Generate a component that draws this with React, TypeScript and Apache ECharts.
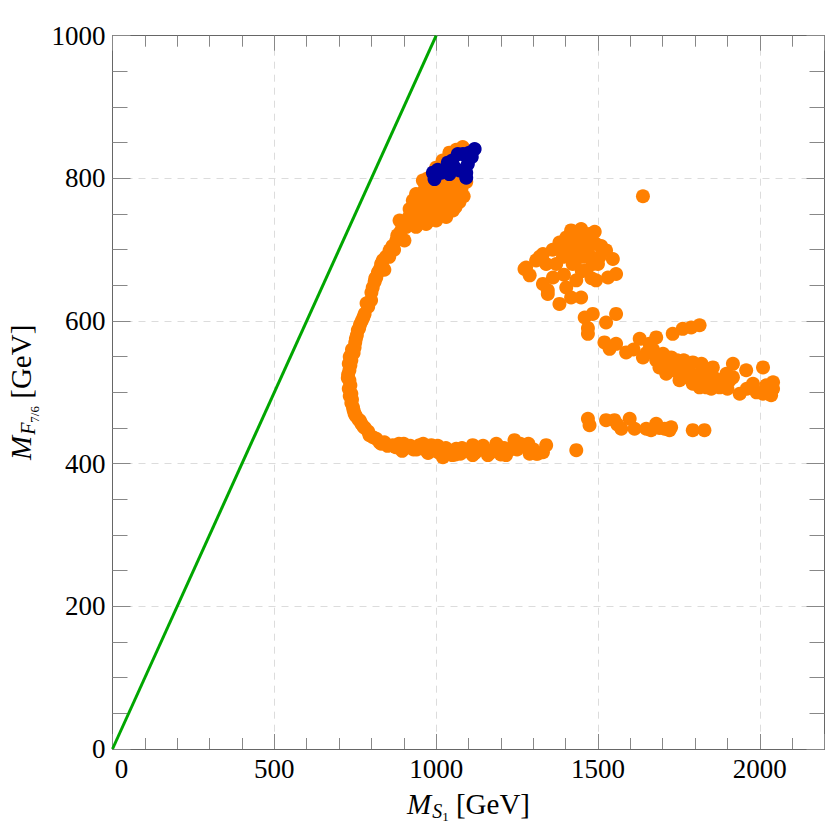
import React, { useEffect, useRef } from "react";
import * as echarts from "echarts";

const FONT = '"Liberation Serif", "Times New Roman", serif';

// Axis ranges / ticks
const xRange = [0, 2200];
const yRange = [0, 1000];
const xMajor = 500;
const xMinor = 100;
const yMajor = 200;

// Diagonal reference line M_F = M_S
const diagonalLine: [number, number][] = [
  [0, 0],
  [1000, 1000],
];

// Left "C"-shaped branch (orange)
const arcPoints: [number, number][] = [
  [1041, 836], [1082, 844], [1062, 840], [1020, 825], [1000, 815], [975, 800],
  [959, 797], [969, 774], [928, 769], [918, 757], [949, 750], [990, 760],
  [1021, 774], [1052, 788], [1078, 785], [1072, 767], [1052, 755], [1031, 746],
  [1000, 741], [969, 736], [938, 732], [908, 732], [902, 713], [1010, 783],
  [990, 792], [1031, 797], [938, 778], [980, 748], [959, 755], [1093, 795],
  [1062, 775], [1000, 770], [950, 765], [930, 745], [1040, 765], [985, 780],
  [920, 740], [945, 740], [960, 745], [975, 740], [990, 750], [1010, 750],
  [1020, 760], [1045, 775], [1060, 790], [1070, 800], [1080, 800], [965, 785],
  [955, 770], [975, 765], [1000, 785], [1020, 790], [940, 760], [915, 745],
  [1060, 760], [1085, 775], [1030, 780], [1010, 800], [985, 800], [995, 805],
  [887, 741], [877, 713], [856, 699], [830, 680], [815, 661], [804, 647],
  [799, 629], [779, 610], [758, 587], [748, 563], [738, 545], [732, 531],
  [732, 517], [738, 498], [743, 479], [748, 470], [769, 456], [794, 440],
  [825, 430], [866, 426], [908, 423], [949, 426], [990, 419], [1021, 409],
  [1062, 421], [1113, 426], [1113, 412], [1155, 419], [1186, 428], [1216, 412],
  [1242, 433], [1278, 423], [1309, 414], [1340, 426], [1433, 419],
  [890, 725], [865, 705], [845, 690], [840, 672], [820, 668], [810, 655],
  [790, 620], [770, 600], [762, 590], [752, 575], [745, 555], [735, 538],
  [728, 525], [735, 510], [740, 490], [745, 475], [760, 462], [780, 450],
  [805, 437], [840, 430], [850, 425], [885, 428], [895, 418], [930, 420],
  [965, 420], [975, 415], [1005, 425], [1040, 416], [1075, 414], [1090, 418],
  [1135, 420], [1170, 416], [1196, 423], [1230, 420], [1260, 428], [1268, 426],
  [1289, 414], [1314, 414], [1200, 413], [1050, 412], [1010, 415],
  [895, 735], [880, 720], [870, 700], [855, 690], [835, 685], [825, 672],
  [812, 660], [800, 640], [785, 625], [775, 605], [765, 595], [755, 580],
  [750, 570], [740, 560], [733, 550], [730, 540], [727, 520], [730, 505],
  [733, 495], [738, 485], [752, 467], [765, 460], [775, 452], [790, 445],
  [815, 435], [830, 428], [875, 423], [900, 428], [920, 425], [940, 420],
  [960, 428], [985, 426], [1000, 418], [1030, 422], [1060, 413], [1080, 422],
  [1100, 418], [1120, 415], [1145, 425], [1160, 412], [1180, 420], [1210, 422],
  [1250, 420], [1285, 428], [1300, 420], [1330, 416],
];

// Upper-right island (orange)
const upperRightPoints: [number, number][] = [
  [1273, 673], [1289, 664], [1309, 685], [1330, 694], [1330, 652], [1345, 643],
  [1361, 661], [1381, 710], [1381, 624], [1402, 717], [1417, 633], [1422, 680],
  [1448, 729], [1448, 633], [1453, 703], [1474, 722], [1494, 708], [1494, 657],
  [1505, 690], [1525, 699], [1531, 661], [1546, 687], [1556, 666], [1433, 657],
  [1402, 647], [1371, 680], [1464, 671], [1392, 690], [1433, 699], [1417, 727],
  [1484, 680], [1278, 675], [1320, 690], [1345, 638], [1459, 710], [1440, 715],
  [1410, 700], [1470, 695], [1480, 660], [1510, 705], [1360, 700], [1340, 680],
  [1395, 665], [1455, 690], [1425, 715], [1490, 725], [1430, 685], [1450, 670],
  [1415, 690], [1470, 710], [1500, 680], [1385, 700], [1440, 700],
  [1459, 605], [1484, 610], [1469, 582], [1525, 598], [1556, 610], [1469, 590],
  [1639, 775],
];

// Slanted band on the right (orange)
const slantBandPoints: [number, number][] = [
  [1520, 570], [1536, 561], [1556, 568], [1587, 556], [1629, 575], [1639, 549],
  [1659, 568], [1680, 577], [1680, 545], [1701, 554], [1731, 582], [1762, 589],
  [1788, 591], [1814, 594], [1726, 549], [1752, 535], [1773, 521], [1793, 542],
  [1814, 526], [1835, 517], [1855, 535], [1876, 507], [1907, 517], [1917, 540],
  [1938, 498], [1958, 531], [1979, 512], [2010, 535], [2010, 498], [2035, 496],
  [2041, 514], [2041, 505], [1690, 535], [1711, 526], [1752, 517], [1793, 512],
  [1835, 507], [1876, 517], [1917, 521], [1897, 526], [1814, 507], [1845, 526],
  [1610, 560], [1650, 555], [1700, 540], [1740, 530], [1780, 530], [1820, 540],
  [1860, 520], [1960, 505], [1990, 500], [2020, 510], [1765, 545], [1800, 520],
  [1720, 540], [1850, 505], [1900, 505], [1670, 560], [1710, 545], [1745, 545],
  [1785, 525], [1825, 515], [1760, 525], [1830, 530],
];

// Lower horizontal band on the right (orange)
const lowBandPoints: [number, number][] = [
  [1469, 463], [1474, 454], [1525, 461], [1551, 461], [1572, 449], [1598, 463],
  [1613, 449], [1649, 449], [1664, 447], [1680, 456], [1706, 449], [1726, 451],
  [1721, 447], [1793, 447], [1829, 447], [1560, 455], [1690, 450],
];

// Highlighted points (dark blue)
const bluePoints: [number, number][] = [
  [990, 808], [995, 799], [1016, 808], [1036, 822], [1041, 806], [1067, 834],
  [1072, 811], [1093, 808], [1098, 820], [1103, 836], [1119, 841], [1093, 801],
  [1083, 834], [1057, 815], [1030, 812], [1005, 812], [1110, 830], [1050, 825],
];

const orangePoints = [...arcPoints, ...upperRightPoints, ...slantBandPoints, ...lowBandPoints];

const FRAME = "#666";
const TICK = "#888";

export default function App() {
  const ref = useRef<HTMLDivElement>(null);
  useEffect(() => {
    document.body.style.margin = "0";
    if (!ref.current) return;
    const chart = echarts.init(ref.current, undefined, { renderer: "svg" });

    const titleRich = {
      m: { fontSize: 29, fontStyle: "italic", fontFamily: FONT, color: "#000" },
      s: { fontSize: 20, fontStyle: "italic", fontFamily: FONT, color: "#000", padding: [14, 0, 0, 1] },
      ss: { fontSize: 13, fontFamily: FONT, color: "#000", padding: [26, 0, 0, 0] },
      n: { fontSize: 29, fontFamily: FONT, color: "#000" },
    };

    const baseX = (pos: string, interval: number, tickLen: number, labels: boolean, split: boolean): any => ({
      type: "value",
      position: pos,
      min: xRange[0],
      max: xRange[1],
      interval,
      axisLine: { show: true, onZero: false, lineStyle: { color: FRAME, width: 1 } },
      axisTick: { show: true, inside: true, length: tickLen, lineStyle: { color: TICK, width: 1 } },
      axisLabel: labels
        ? {
            show: true,
            fontSize: 27,
            fontFamily: FONT,
            color: "#000",
            margin: 6,
            formatter: (v: number) => (v % xMajor === 0 ? (v === 0 ? "{z|0}" : String(v)) : ""),
            rich: { z: { padding: [0, 0, 0, 18], fontSize: 27, fontFamily: FONT, color: "#000" } },
          }
        : { show: false },
      splitLine: split ? { show: true, lineStyle: { color: "#dcdcdc", width: 1, type: [7, 6] } } : { show: false },
    });

    const baseY = (pos: string, labels: boolean, split: boolean): any => ({
      type: "value",
      position: pos,
      min: yRange[0],
      max: yRange[1],
      interval: yMajor,
      axisLine: { show: true, onZero: false, lineStyle: { color: FRAME, width: 1 } },
      axisTick: { show: true, inside: true, length: 18, lineStyle: { color: TICK, width: 1 } },
      minorTick: { show: true, splitNumber: 4, length: 15, lineStyle: { color: TICK, width: 1 } },
      axisLabel: labels
        ? { show: true, fontSize: 27, fontFamily: FONT, color: "#000", margin: 7, formatter: (v: number) => String(v) }
        : { show: false },
      splitLine: split ? { show: true, lineStyle: { color: "#dcdcdc", width: 1, type: [7, 6] } } : { show: false },
    });

    const xMain = baseX("bottom", xMajor, 15, true, true);
    xMain.name = "{m|M}{s|S}{ss|1}{n| [GeV]}";
    xMain.nameLocation = "middle";
    xMain.nameGap = 35;
    xMain.nameTextStyle = { fontFamily: FONT, color: "#000", rich: titleRich };

    const yMain = baseY("left", true, true);
    yMain.name = "{m|M}{s|F}{ss|7/6}{n| [GeV]}";
    yMain.nameLocation = "middle";
    yMain.nameRotate = 90;
    yMain.nameGap = 70;
    yMain.nameTextStyle = { fontFamily: FONT, color: "#000", rich: titleRich };

    chart.setOption({
      animation: false,
      backgroundColor: "#fff",
      grid: {
        left: 112.5,
        right: 5.5,
        top: 35.7,
        bottom: 81,
        containLabel: false,
        outerBoundsMode: "none",
      },
      xAxis: [
        xMain,
        baseX("bottom", xMinor, 11, false, false),
        baseX("top", xMajor, 15, false, false),
        baseX("top", xMinor, 11, false, false),
      ],
      yAxis: [yMain, baseY("right", false, false)],
      series: [
        {
          type: "line",
          data: diagonalLine,
          xAxisIndex: 0,
          yAxisIndex: 0,
          symbol: "none",
          lineStyle: { color: "#00a600", width: 3 },
          clip: true,
          z: 2,
        },
        {
          type: "scatter",
          data: orangePoints,
          xAxisIndex: 0,
          yAxisIndex: 0,
          symbol: "circle",
          symbolSize: 14,
          itemStyle: { color: "#ff8000", opacity: 1 },
          z: 3,
        },
        {
          type: "scatter",
          data: bluePoints,
          xAxisIndex: 0,
          yAxisIndex: 0,
          symbol: "circle",
          symbolSize: 14,
          itemStyle: { color: "#00009e", opacity: 1 },
          z: 4,
        },
      ],
    });
    return () => chart.dispose();
  }, []);
  return <div ref={ref} style={{ width: 830, height: 830 }} />;
}
